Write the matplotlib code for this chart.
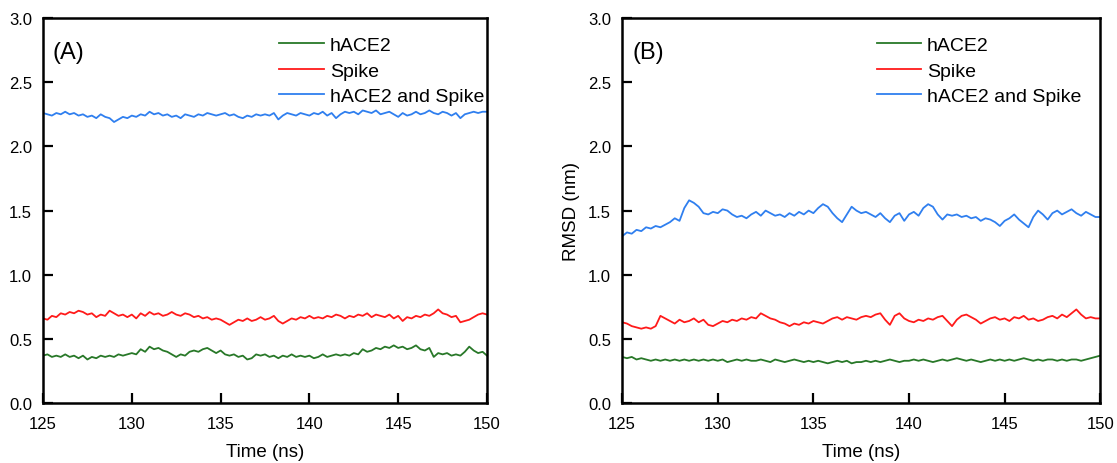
import numpy as np
import matplotlib
matplotlib.use('Agg')
import matplotlib.pyplot as plt

plt.rcParams['font.family'] = ['Liberation Sans', 'DejaVu Sans']

# time grid (ns), 0.25 ns steps
time_ns = np.arange(125.0, 150.001, 0.25)

labels = ['hACE2', 'Spike', 'hACE2 and Spike']
colors = ['#287828', '#ff1a1a', '#2f7fef']

# panel A
a_hace2 = [0.37, 0.38, 0.36, 0.37, 0.36, 0.38, 0.36, 0.37, 0.35, 0.37,
           0.34, 0.36, 0.35, 0.37, 0.36, 0.37, 0.36, 0.38, 0.37, 0.38,
           0.39, 0.38, 0.42, 0.40, 0.44, 0.42, 0.43, 0.41, 0.40, 0.38,
           0.36, 0.38, 0.37, 0.40, 0.41, 0.40, 0.42, 0.43, 0.41, 0.39,
           0.41, 0.38, 0.37, 0.38, 0.36, 0.37, 0.34, 0.35, 0.38, 0.37,
           0.38, 0.36, 0.37, 0.35, 0.37, 0.36, 0.38, 0.36, 0.37, 0.36,
           0.37, 0.35, 0.36, 0.38, 0.36, 0.37, 0.38, 0.37, 0.38, 0.37,
           0.39, 0.38, 0.42, 0.40, 0.41, 0.43, 0.42, 0.44, 0.43, 0.45,
           0.43, 0.44, 0.42, 0.43, 0.45, 0.42, 0.41, 0.43, 0.36, 0.39,
           0.38, 0.39, 0.37, 0.38, 0.37, 0.40, 0.44, 0.41, 0.39, 0.40,
           0.37]
a_spike = [0.66, 0.65, 0.68, 0.67, 0.70, 0.69, 0.71, 0.70, 0.72, 0.71,
           0.69, 0.70, 0.67, 0.69, 0.68, 0.72, 0.70, 0.68, 0.69, 0.67,
           0.69, 0.66, 0.70, 0.68, 0.71, 0.69, 0.70, 0.68, 0.69, 0.71,
           0.69, 0.68, 0.70, 0.69, 0.67, 0.68, 0.66, 0.67, 0.65, 0.66,
           0.65, 0.63, 0.61, 0.63, 0.65, 0.64, 0.66, 0.64, 0.65, 0.67,
           0.65, 0.66, 0.68, 0.64, 0.62, 0.64, 0.66, 0.65, 0.67, 0.66,
           0.68, 0.66, 0.67, 0.66, 0.68, 0.67, 0.69, 0.68, 0.66, 0.68,
           0.67, 0.69, 0.68, 0.70, 0.67, 0.69, 0.68, 0.67, 0.69, 0.66,
           0.68, 0.64, 0.67, 0.66, 0.68, 0.67, 0.69, 0.68, 0.70, 0.73,
           0.70, 0.69, 0.67, 0.68, 0.63, 0.64, 0.65, 0.67, 0.69, 0.70,
           0.69]
a_both = [2.26, 2.25, 2.24, 2.26, 2.25, 2.27, 2.25, 2.26, 2.24, 2.25,
          2.23, 2.24, 2.22, 2.25, 2.23, 2.22, 2.19, 2.21, 2.23, 2.22,
          2.24, 2.23, 2.25, 2.24, 2.27, 2.25, 2.26, 2.24, 2.25, 2.23,
          2.24, 2.22, 2.25, 2.24, 2.23, 2.25, 2.24, 2.26, 2.25, 2.24,
          2.25, 2.26, 2.24, 2.25, 2.23, 2.22, 2.24, 2.23, 2.25, 2.24,
          2.25, 2.24, 2.26, 2.21, 2.24, 2.26, 2.25, 2.24, 2.26, 2.25,
          2.24, 2.26, 2.25, 2.27, 2.24, 2.26, 2.22, 2.25, 2.27, 2.26,
          2.27, 2.25, 2.28, 2.27, 2.26, 2.28, 2.25, 2.26, 2.27, 2.25,
          2.23, 2.26, 2.24, 2.25, 2.27, 2.25, 2.26, 2.28, 2.26, 2.25,
          2.27, 2.26, 2.24, 2.26, 2.22, 2.25, 2.26, 2.27, 2.26, 2.27,
          2.27]

# panel B
b_hace2 = [0.36, 0.35, 0.36, 0.34, 0.35, 0.34, 0.33, 0.34, 0.33, 0.34,
           0.33, 0.34, 0.33, 0.34, 0.33, 0.34, 0.33, 0.34, 0.33, 0.34,
           0.33, 0.34, 0.32, 0.33, 0.34, 0.33, 0.34, 0.33, 0.33, 0.34,
           0.33, 0.32, 0.34, 0.33, 0.32, 0.33, 0.34, 0.33, 0.32, 0.33,
           0.32, 0.33, 0.32, 0.31, 0.32, 0.33, 0.32, 0.33, 0.31, 0.32,
           0.32, 0.33, 0.32, 0.33, 0.32, 0.33, 0.34, 0.33, 0.32, 0.33,
           0.33, 0.34, 0.33, 0.34, 0.33, 0.32, 0.33, 0.34, 0.33, 0.34,
           0.35, 0.34, 0.33, 0.34, 0.33, 0.32, 0.33, 0.34, 0.33, 0.34,
           0.33, 0.34, 0.33, 0.34, 0.35, 0.34, 0.33, 0.34, 0.33, 0.34,
           0.34, 0.33, 0.34, 0.33, 0.34, 0.34, 0.33, 0.34, 0.35, 0.36,
           0.37]
b_spike = [0.63, 0.62, 0.60, 0.59, 0.58, 0.59, 0.58, 0.60, 0.68, 0.66,
           0.64, 0.62, 0.65, 0.63, 0.64, 0.66, 0.63, 0.65, 0.61, 0.60,
           0.62, 0.64, 0.63, 0.65, 0.64, 0.66, 0.65, 0.67, 0.66, 0.70,
           0.68, 0.66, 0.65, 0.63, 0.62, 0.60, 0.62, 0.61, 0.63, 0.62,
           0.64, 0.63, 0.62, 0.64, 0.66, 0.67, 0.65, 0.67, 0.66, 0.65,
           0.67, 0.68, 0.67, 0.69, 0.70, 0.65, 0.61, 0.68, 0.70, 0.66,
           0.64, 0.63, 0.65, 0.64, 0.66, 0.65, 0.67, 0.68, 0.64, 0.60,
           0.65, 0.68, 0.69, 0.67, 0.65, 0.62, 0.64, 0.66, 0.67, 0.65,
           0.66, 0.64, 0.67, 0.66, 0.68, 0.65, 0.66, 0.64, 0.65, 0.67,
           0.68, 0.66, 0.69, 0.67, 0.70, 0.73, 0.69, 0.66, 0.67, 0.66,
           0.66]
b_both = [1.30, 1.33, 1.32, 1.35, 1.34, 1.37, 1.36, 1.38, 1.37, 1.39,
          1.41, 1.44, 1.42, 1.52, 1.58, 1.56, 1.53, 1.48, 1.47, 1.49,
          1.48, 1.51, 1.50, 1.47, 1.45, 1.46, 1.44, 1.47, 1.49, 1.46,
          1.50, 1.48, 1.46, 1.47, 1.45, 1.48, 1.46, 1.49, 1.47, 1.50,
          1.48, 1.52, 1.55, 1.53, 1.48, 1.44, 1.41, 1.47, 1.53, 1.50,
          1.48, 1.49, 1.47, 1.45, 1.48, 1.44, 1.41, 1.46, 1.48, 1.42,
          1.47, 1.49, 1.46, 1.52, 1.55, 1.53, 1.47, 1.43, 1.47, 1.46,
          1.47, 1.45, 1.46, 1.44, 1.45, 1.42, 1.44, 1.43, 1.41, 1.38,
          1.42, 1.44, 1.47, 1.43, 1.40, 1.37, 1.45, 1.50, 1.47, 1.43,
          1.48, 1.50, 1.47, 1.49, 1.51, 1.48, 1.46, 1.49, 1.47, 1.45,
          1.45]

fig = plt.figure(figsize=(11.17, 4.64), dpi=100)
ax_a = fig.add_axes([0.0385, 0.129, 0.3975, 0.830])
ax_b = fig.add_axes([0.557, 0.129, 0.428, 0.830])


def draw_panel(ax, series, tag):
    for vals, lab, col in zip(series, labels, colors):
        ax.plot(time_ns, vals, color=col, lw=1.3, label=lab)
    ax.set_xlim(125, 150)
    ax.set_ylim(0, 3.0)
    ax.set_xticks([125, 130, 135, 140, 145, 150])
    ax.set_yticks(np.arange(0, 3.01, 0.5))
    ax.set_yticklabels(['%.1f' % v for v in np.arange(0, 3.01, 0.5)])
    ax.tick_params(direction='in', length=7, width=1.6, labelsize=12)
    ax.tick_params(axis='x', pad=9)
    ax.tick_params(axis='y', pad=8)
    for sp in ax.spines.values():
        sp.set_linewidth(1.8)
    ax.set_xlabel('Time (ns)', fontsize=13.5, labelpad=9)
    ax.text(0.022, 0.94, tag, transform=ax.transAxes, fontsize=17,
            va='top', ha='left')
    ax.legend(loc='upper left', bbox_to_anchor=(0.532, 0.952), frameon=False,
              fontsize=14, handlelength=2.3, handletextpad=0.3,
              labelspacing=0.4, borderaxespad=0, borderpad=0)


draw_panel(ax_a, [a_hace2, a_spike, a_both], '(A)')
draw_panel(ax_b, [b_hace2, b_spike, b_both], '(B)')
ax_b.set_ylabel('RMSD (nm)', fontsize=13.5, labelpad=6)

fig.savefig('out.png', dpi=100)
